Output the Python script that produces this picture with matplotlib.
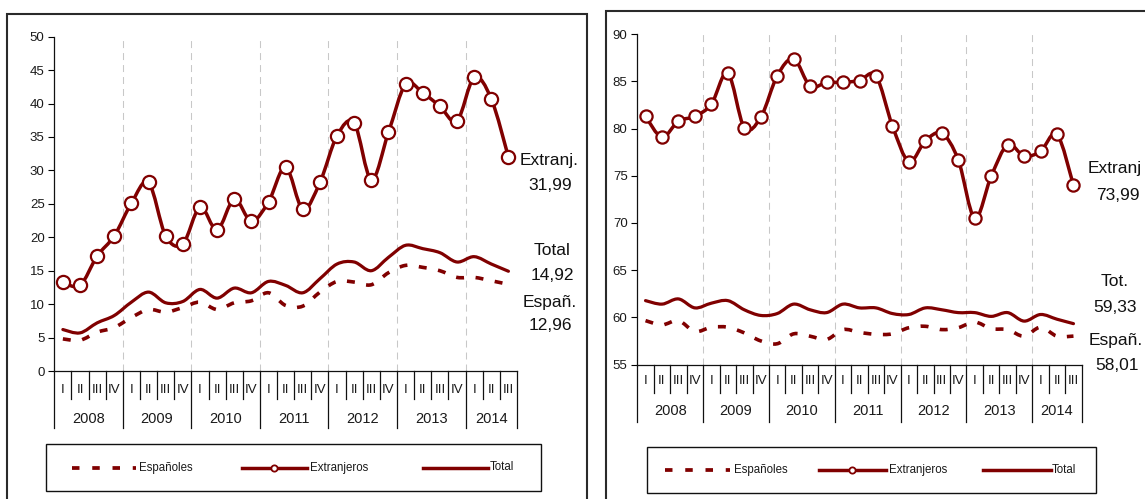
import matplotlib
matplotlib.use('Agg')
import matplotlib.pyplot as plt
from matplotlib.path import Path
from matplotlib.patches import PathPatch, Rectangle
from matplotlib.lines import Line2D

plt.rcParams['font.family'] = ['Liberation Sans', 'DejaVu Sans']

# ---------------- data ----------------
years = ['2008', '2009', '2010', '2011', '2012', '2013', '2014']
quarters = (['I', 'II', 'III', 'IV'] * 7)[:27]

esp_left = [4.8, 4.6, 5.8, 6.5, 8.0, 9.2, 8.8, 9.5, 10.3, 9.2, 10.2, 10.5,
            11.7, 9.8, 9.7, 11.8, 13.4, 13.3, 12.9, 14.7, 15.8, 15.5, 15.0,
            14.0, 14.0, 13.5, 12.96]
ext_left = [13.3, 12.8, 17.2, 20.2, 25.1, 28.2, 20.2, 19.0, 24.5, 21.1, 25.7,
            22.4, 25.3, 30.5, 24.2, 28.2, 35.2, 37.1, 28.6, 35.7, 42.9, 41.6,
            39.6, 37.4, 43.9, 40.7, 31.99]
tot_left = [6.2, 5.7, 7.2, 8.3, 10.3, 11.8, 10.2, 10.4, 12.2, 10.9, 12.4, 11.7,
            13.4, 12.8, 11.7, 13.8, 16.0, 16.3, 15.0, 17.0, 18.8, 18.3, 17.7,
            16.3, 17.1, 16.0, 14.92]

esp_right = [59.65, 59.2, 59.65, 58.5, 58.95, 58.95, 58.35, 57.5, 57.2, 58.25,
             58.0, 57.65, 58.7, 58.4, 58.2, 58.25, 58.9, 59.05, 58.7, 58.9,
             59.5, 58.8, 58.7, 58.0, 58.95, 58.0, 58.01]
ext_right = [81.3, 79.1, 80.8, 81.3, 82.6, 85.9, 80.1, 81.2, 85.6, 87.4, 84.5,
             84.9, 84.9, 85.1, 85.6, 80.3, 76.5, 78.7, 79.5, 76.7, 70.5, 74.95,
             78.3, 77.1, 77.6, 79.4, 73.99]
tot_right = [61.77, 61.4, 61.95, 61.0, 61.5, 61.77, 60.8, 60.2, 60.4, 61.4,
             60.8, 60.5, 61.4, 61.0, 61.0, 60.4, 60.3, 61.0, 60.8, 60.5, 60.5,
             60.1, 60.5, 59.6, 60.3, 59.8, 59.33]

legend_names = ['Españoles', 'Extranjeros', 'Total']

# ---------------- styling ----------------
W, H = 1145, 499
RED = '#800000'
fig = plt.figure(figsize=(W / 100, H / 100), dpi=100)


def fx(px):
    return px / W


def fy(py):
    return 1 - py / H


def smooth_path(xs, ys):
    verts = [(xs[0], ys[0])]
    codes = [Path.MOVETO]
    n = len(xs)
    for i in range(n - 1):
        p0 = (xs[i - 1], ys[i - 1]) if i > 0 else (xs[i], ys[i])
        p1 = (xs[i], ys[i])
        p2 = (xs[i + 1], ys[i + 1])
        p3 = (xs[i + 2], ys[i + 2]) if i + 2 < n else p2
        c1 = (p1[0] + (p2[0] - p0[0]) / 6, p1[1] + (p2[1] - p0[1]) / 6)
        c2 = (p2[0] - (p3[0] - p1[0]) / 6, p2[1] - (p3[1] - p1[1]) / 6)
        verts += [c1, c2, p2]
        codes += [Path.CURVE4] * 3
    return Path(verts, codes)


def fmt(v):
    return f'{v:.2f}'.replace('.', ',')


def panel(ax_px, frame_px, ylim, ystep, esp, ext, tot, qoff, yoff,
          labels, legend_box, legend_items, ms):
    x0, yt, x1, yb = ax_px
    ax = fig.add_axes([fx(x0), fy(yb), fx(x1 - x0), (yb - yt) / H])
    axh = yb - yt
    xs = list(range(len(quarters)))
    ax.set_xlim(-0.5, len(quarters) - 0.5)
    ax.set_ylim(*ylim)
    ticks = list(range(ylim[0], ylim[1] + 1, ystep))
    ax.set_yticks(ticks)
    ax.set_yticklabels([str(t) for t in ticks], fontsize=9.5, color='#1a1a1a')
    ax.tick_params(axis='y', direction='out', length=4, width=0.8, pad=3)
    ax.set_xticks([])
    for s in ['top', 'right']:
        ax.spines[s].set_visible(False)
    for s in ['left', 'bottom']:
        ax.spines[s].set_linewidth(0.9)
        ax.spines[s].set_color('#111111')
    ax.patch.set_alpha(0)

    # year gridlines
    for b in range(4, len(quarters), 4):
        ax.axvline(b - 0.5, color='#c8c8c8', lw=0.75, ls=(0, (6.7, 4.8)),
                   zorder=0)

    # category axis: quarter and year labels with separators
    tr = ax.get_xaxis_transform()
    for i, q in enumerate(quarters):
        ax.annotate(q, xy=(i, 0), xycoords=('data', 'axes fraction'),
                    xytext=(0, qoff), textcoords='offset pixels',
                    ha='center', va='center', fontsize=9.5, color='#1a1a1a')
    for k, yr in enumerate(years):
        idx = [i for i in range(len(quarters)) if i // 4 == k]
        c = (idx[0] + idx[-1]) / 2
        ax.annotate(yr, xy=(c, 0), xycoords=('data', 'axes fraction'),
                    xytext=(0, yoff), textcoords='offset pixels',
                    ha='center', va='center', fontsize=10.5, color='#1a1a1a')
    for b in range(len(quarters) + 1):
        big = (b % 4 == 0) or b == len(quarters)
        L = 57 if big else 28
        ax.plot([b - 0.5, b - 0.5], [0, -L / axh], transform=tr,
                clip_on=False, color='#111111', lw=0.9)

    # series
    ax.add_patch(PathPatch(smooth_path(xs, esp), fill=False, ec=RED, lw=2.6,
                           ls=(0, (2.2, 3.2)), capstyle='butt', zorder=3))
    ax.add_patch(PathPatch(smooth_path(xs, tot), fill=False, ec=RED, lw=2.3,
                           capstyle='round', zorder=3))
    ax.add_patch(PathPatch(smooth_path(xs, ext), fill=False, ec=RED, lw=2.5,
                           capstyle='round', zorder=4))
    ax.plot(xs, ext, ls='none', marker='o', ms=ms, mfc='white', mec=RED,
            mew=1.6, zorder=5, clip_on=False)

    # frame
    fx0, fy0, fx1 = frame_px
    fig.add_artist(Rectangle((fx(fx0), fy(520)), fx(fx1 - fx0), (520 - fy0) / H,
                             transform=fig.transFigure, fill=False,
                             ec='#2a2a2a', lw=1.5))

    # end labels
    for txt, px, py, ha in labels:
        fig.text(fx(px), fy(py), txt, ha=ha, va='center', fontsize=12.5,
                 color='#111111')

    # legend
    lx0, ly0, lx1, ly1 = legend_box
    fig.add_artist(Rectangle((fx(lx0), fy(ly1)), fx(lx1 - lx0), (ly1 - ly0) / H,
                             transform=fig.transFigure, fill=False,
                             ec='#111111', lw=1.0))
    lyc = (ly0 + ly1) / 2
    (e0, e1, et), (x0e, x1e, xm, xt), (t0, t1, tt) = legend_items
    fig.add_artist(Line2D([fx(e0), fx(e1)], [fy(lyc), fy(lyc)], color=RED,
                          lw=2.7, ls=(0, (2.0, 3.4)), solid_capstyle='butt',
                          dash_capstyle='butt'))
    fig.text(fx(et), fy(lyc), legend_names[0], ha='left', va='center',
             fontsize=8.3, color='#1a1a1a')
    fig.add_artist(Line2D([fx(x0e), fx(x1e)], [fy(lyc), fy(lyc)], color=RED,
                          lw=2.5))
    fig.add_artist(Line2D([fx(xm)], [fy(lyc)], ls='none', marker='o', ms=4.5,
                          mfc='white', mec=RED, mew=1.3))
    fig.text(fx(xt), fy(lyc), legend_names[1], ha='left', va='center',
             fontsize=8.3, color='#1a1a1a')
    fig.add_artist(Line2D([fx(t0), fx(t1)], [fy(lyc), fy(lyc)], color=RED,
                          lw=2.5))
    fig.text(fx(tt), fy(lyc), legend_names[2], ha='left', va='center',
             fontsize=8.3, color='#1a1a1a')
    return ax


panel((54.3, 36.7, 517.0, 371.0), (7.3, 14.0, 586.7), (0, 50), 5,
      esp_left, ext_left, tot_left, -19, -48,
      [('Extranj.', 549, 160, 'center'), (fmt(ext_left[-1]), 550, 185, 'center'),
       ('Total', 552, 251, 'center'), (fmt(tot_left[-1]), 552, 276, 'center'),
       ('Españ.', 550, 302, 'center'), (fmt(esp_left[-1]), 550, 325, 'center')],
      (45.7, 444.0, 541.0, 491.0),
      ((71.7, 136.0, 139.0), (241.7, 307.0, 274.0, 310.0),
       (423.0, 488.0, 490.0)), 9.5)

panel((637.3, 34.3, 1081.7, 364.5), (605.7, 11.0, 1160.0), (55, 90), 5,
      esp_right, ext_right, tot_right, -17, -46.5,
      [('Extranj', 1087.3, 169, 'left'), (fmt(ext_right[-1]), 1118, 195, 'center'),
       ('Tot.', 1115, 282, 'center'), (fmt(tot_right[-1]), 1115, 307, 'center'),
       ('Españ.', 1089, 341, 'left'), (fmt(esp_right[-1]), 1117, 366, 'center')],
      (647.3, 447.3, 1095.7, 492.7),
      ((665.0, 730.0, 734.0), (818.6, 886.0, 852.0, 889.0),
       (983.0, 1051.0, 1052.0)), 8.8)

fig.savefig('out.png', dpi=100)
